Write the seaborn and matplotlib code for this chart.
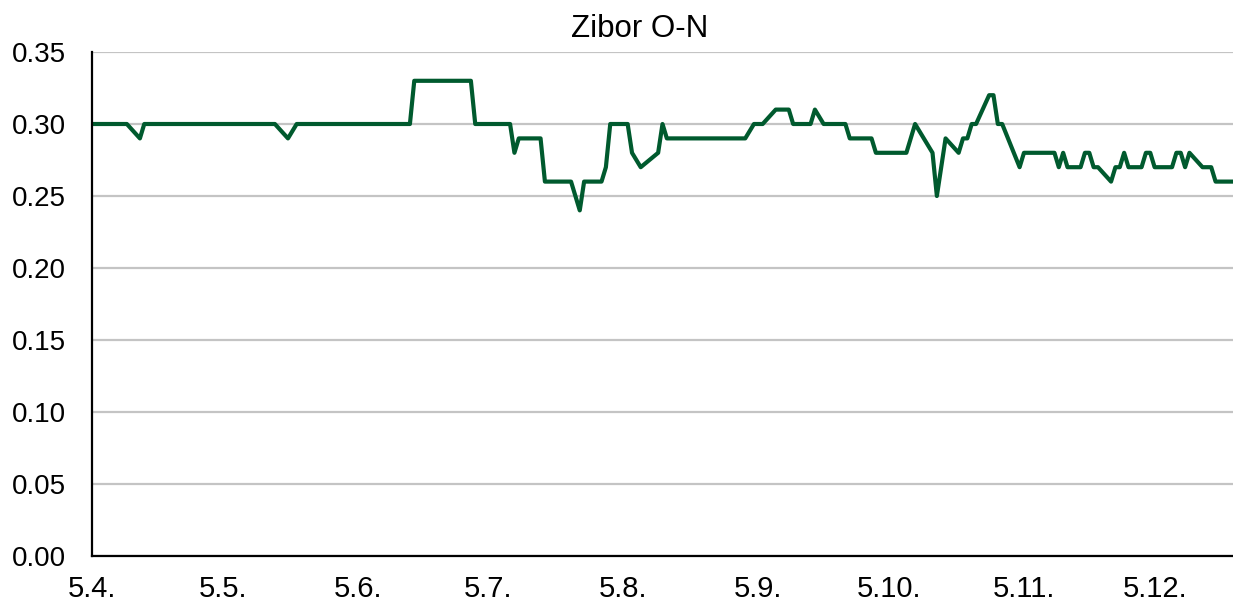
import pandas as pd
import numpy as np
import matplotlib.pyplot as plt
import matplotlib.dates as mdates
from matplotlib.ticker import FuncFormatter, MultipleLocator
import seaborn as sns

LINE_COLOR = "#005a2e"
FIG_DPI = 100

# vertices of the series (date, rate)
dates = [
    "2019-04-05", "2019-04-13", "2019-04-16", "2019-04-17", "2019-05-17",
    "2019-05-20", "2019-05-22", "2019-06-17", "2019-06-18", "2019-07-01",
    "2019-07-02", "2019-07-10", "2019-07-11", "2019-07-12", "2019-07-17",
    "2019-07-18", "2019-07-24", "2019-07-26", "2019-07-27", "2019-07-31",
    "2019-08-01", "2019-08-02", "2019-08-06", "2019-08-07", "2019-08-09",
    "2019-08-13", "2019-08-14", "2019-08-15", "2019-09-02", "2019-09-04",
    "2019-09-06", "2019-09-09", "2019-09-12", "2019-09-13", "2019-09-17",
    "2019-09-18", "2019-09-20", "2019-09-25", "2019-09-26", "2019-10-01",
    "2019-10-02", "2019-10-09", "2019-10-11", "2019-10-15", "2019-10-16",
    "2019-10-17", "2019-10-18", "2019-10-21", "2019-10-22", "2019-10-23",
    "2019-10-24", "2019-10-25", "2019-10-28", "2019-10-29", "2019-10-30",
    "2019-10-31", "2019-11-04", "2019-11-05", "2019-11-12", "2019-11-13",
    "2019-11-14", "2019-11-15", "2019-11-18", "2019-11-19", "2019-11-20",
    "2019-11-21", "2019-11-22", "2019-11-25", "2019-11-26", "2019-11-27",
    "2019-11-28", "2019-11-29", "2019-12-02", "2019-12-03", "2019-12-04",
    "2019-12-05", "2019-12-09", "2019-12-10", "2019-12-11", "2019-12-12",
    "2019-12-13", "2019-12-16", "2019-12-18", "2019-12-19", "2019-12-23",
]
rates = [
    0.30, 0.30, 0.29, 0.30, 0.30,
    0.29, 0.30, 0.30, 0.33, 0.33,
    0.30, 0.30, 0.28, 0.29, 0.29,
    0.26, 0.26, 0.24, 0.26, 0.26,
    0.27, 0.30, 0.30, 0.28, 0.27,
    0.28, 0.30, 0.29, 0.29, 0.30,
    0.30, 0.31, 0.31, 0.30, 0.30,
    0.31, 0.30, 0.30, 0.29, 0.29,
    0.28, 0.28, 0.30, 0.28, 0.25,
    0.27, 0.29, 0.28, 0.29, 0.29,
    0.30, 0.30, 0.32, 0.32, 0.30,
    0.30, 0.27, 0.28, 0.28, 0.27,
    0.28, 0.27, 0.27, 0.28, 0.28,
    0.27, 0.27, 0.26, 0.27, 0.27,
    0.28, 0.27, 0.27, 0.28, 0.28,
    0.27, 0.27, 0.28, 0.28, 0.27,
    0.28, 0.27, 0.27, 0.26, 0.26,
]
tick_dates = ["2019-04-05", "2019-05-05", "2019-06-05", "2019-07-05", "2019-08-05",
              "2019-09-05", "2019-10-05", "2019-11-05", "2019-12-05"]
title = "Zibor O-N"

df = pd.DataFrame({"date": pd.to_datetime(dates), "rate": rates})

sns.set_theme(style="white")
plt.rcParams["font.family"] = ["Liberation Sans", "DejaVu Sans"]

fig = plt.figure(figsize=(1233 / FIG_DPI, 604 / FIG_DPI), dpi=FIG_DPI)
ax = fig.add_axes([92 / 1233, 48 / 604, (1233 - 92) / 1233, (556 - 52) / 604])

sns.lineplot(data=df, x="date", y="rate", ax=ax, color=LINE_COLOR,
             linewidth=3.0, estimator=None)

ax.set_ylim(0, 0.35)
ax.yaxis.set_major_locator(MultipleLocator(0.05))
ax.yaxis.set_major_formatter(FuncFormatter(lambda v, _: f"{v:.2f}"))
ax.set_xlim(df["date"].iloc[0], df["date"].iloc[-1])
ax.set_xticks(pd.to_datetime(tick_dates))
ax.xaxis.set_major_formatter(FuncFormatter(
    lambda v, _: f"{mdates.num2date(v).day}.{mdates.num2date(v).month}."))

ax.grid(axis="y", color="#c4c4c4", linewidth=1.6)
ax.set_axisbelow(True)
for side in ["top", "right"]:
    ax.spines[side].set_visible(False)
for side in ["left", "bottom"]:
    ax.spines[side].set_color("black")
    ax.spines[side].set_linewidth(1.6)

ax.tick_params(axis="both", which="major", direction="out", width=1.6,
               color="black", labelcolor="black")
ax.tick_params(axis="y", length=6, pad=13, labelsize=20)
ax.tick_params(axis="x", length=6.5, pad=7, labelsize=21)
ax.set_xlabel("")
ax.set_ylabel("")
ax.set_title(title, fontsize=22.5, color="black", pad=11,
             x=(640 - 92) / (1233 - 92))

fig.savefig("out.png", dpi=FIG_DPI)
plt.close(fig)
